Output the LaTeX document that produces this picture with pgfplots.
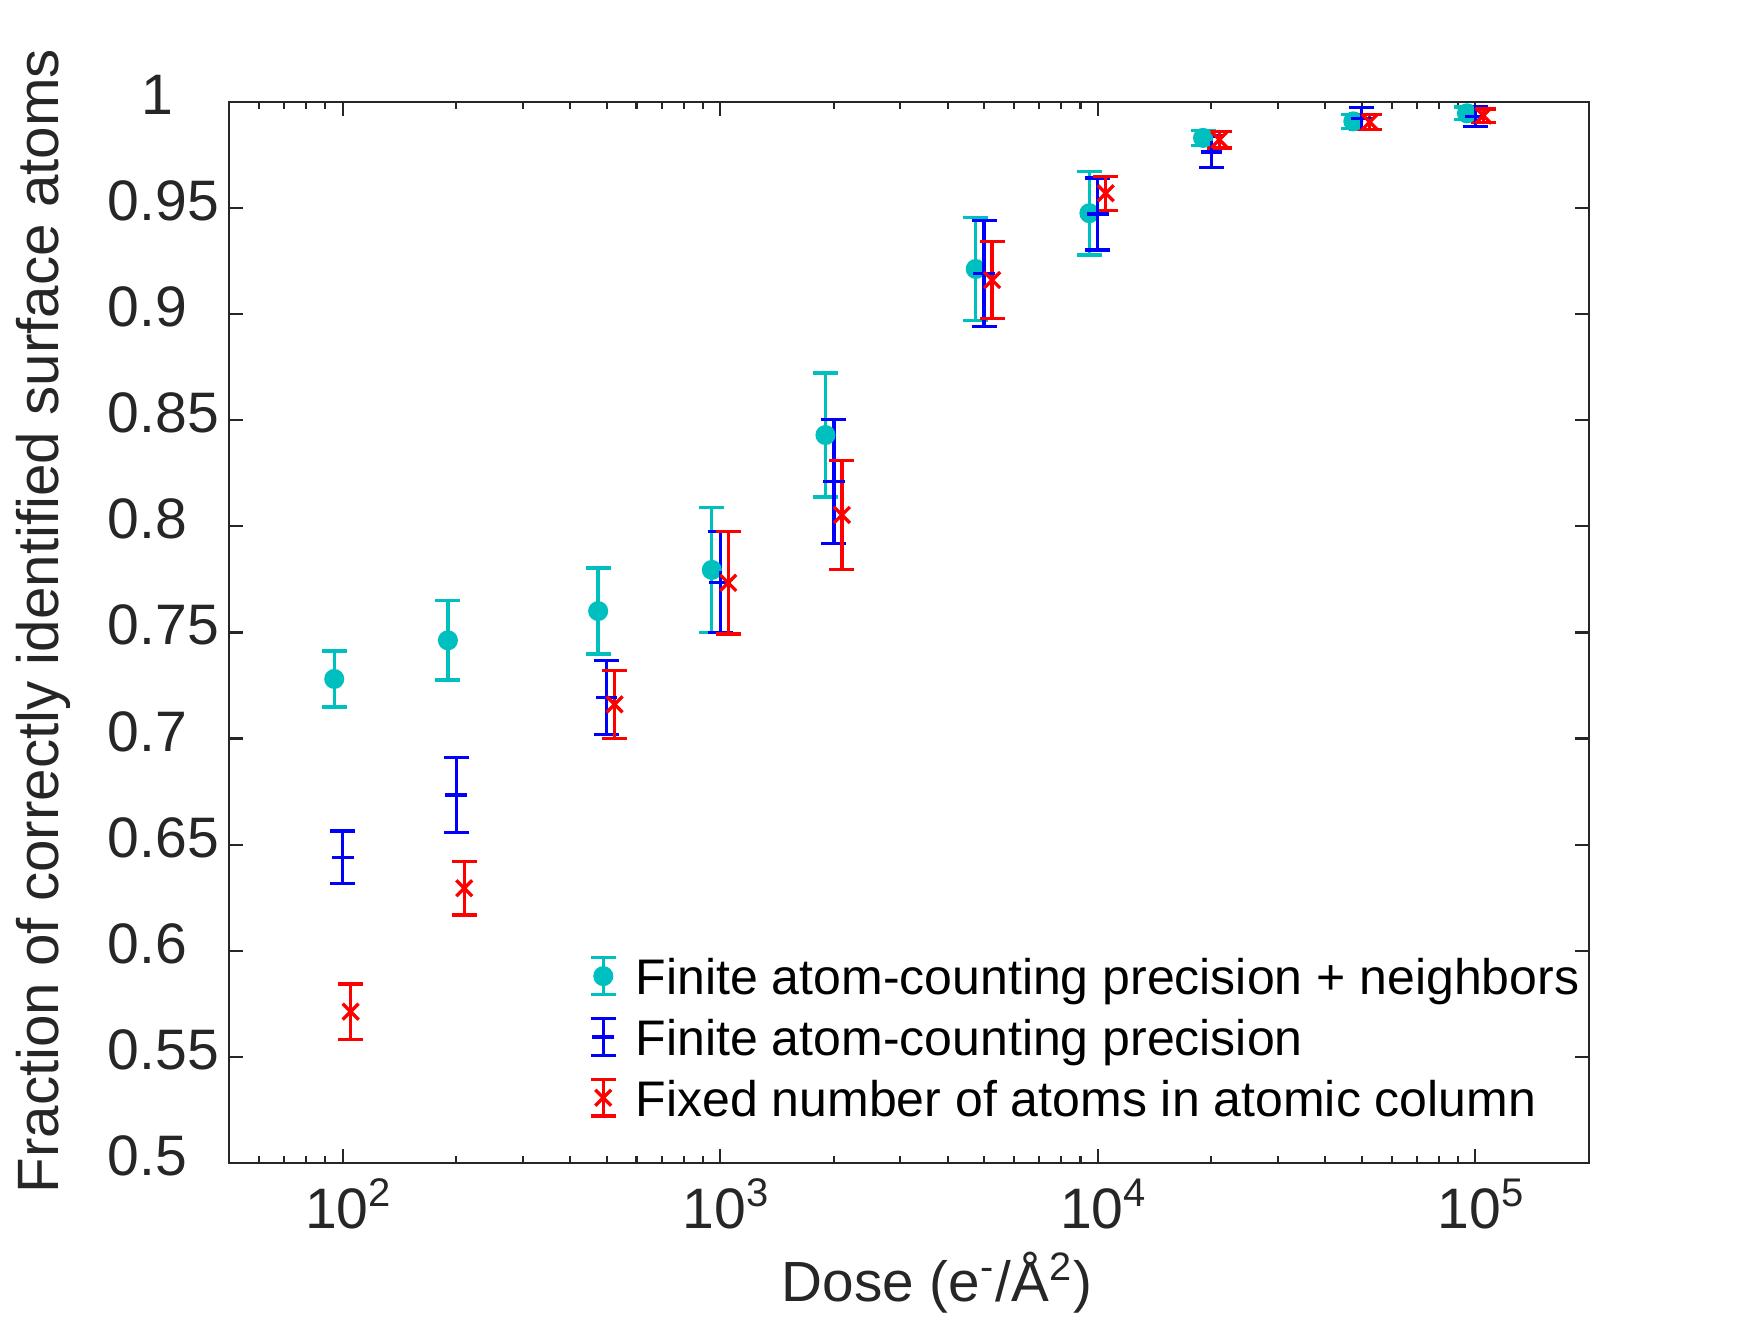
\documentclass[border=0pt]{standalone}
\usepackage{fontspec}
\setmainfont{Liberation Sans}
\usepackage{pgfplots}
\pgfplotsset{compat=1.18}
\definecolor{mcyan}{rgb}{0,0.75,0.75}
\definecolor{axgray}{rgb}{0.15,0.15,0.15}
\begin{document}
\begin{tikzpicture}
\path[use as bounding box] (-54.96pt,-38.23pt) rectangle (365.28pt,279.05pt);
\begin{axis}[
  at={(0pt,0pt)}, anchor=south west,
  scale only axis, width=326.4pt, height=254.5pt,
  xmode=log, xmin=50, xmax=2e5, ymin=0.5, ymax=1,
  axis line style={axgray, line width=0.5pt},
  tick style={axgray, line width=0.5pt},
  major tick length=3.3pt, minor tick length=1.7pt,
  tick align=inside,
  xtick={100,1000,10000,100000},
  xticklabels={10\textsuperscript{2},10\textsuperscript{3},10\textsuperscript{4},10\textsuperscript{5}},
  minor xtick={60,70,80,90,200,300,400,500,600,700,800,900,2000,3000,4000,5000,6000,7000,8000,9000,20000,30000,40000,50000,60000,70000,80000,90000,200000},
  ytick={0.5,0.55,0.6,0.65,0.7,0.75,0.8,0.85,0.9,0.95,1},
  yticklabels={0.5,0.55,0.6,0.65,0.7,0.75,0.8,0.85,0.9,0.95,\hspace*{8pt}1},
  ticklabel style={font=\fontsize{13.7}{16}\selectfont, text=axgray},
  xticklabel style={anchor=base, yshift=-15.7pt, xshift=1.5pt},
  yticklabel style={anchor=base west, inner sep=0pt, xshift=-29.3pt, yshift=-3pt},
  xlabel={Dose (e\textsuperscript{-}/Å\textsuperscript{2})},
  ylabel={Fraction of correctly identified surface atoms},
  label style={text=axgray},
  xlabel style={font=\fontsize{13.6}{17}\selectfont, at={(axis description cs:0.5,0)}, anchor=base, yshift=-33.4pt, xshift=6.7pt},
  ylabel style={font=\fontsize{14}{17}\selectfont, at={(axis description cs:-0.1253,0.5107)}, anchor=base},
  legend cell align=left,
  legend style={draw=none, fill=none, at={(0.2648,0.040)}, anchor=south west,
    inner sep=0pt, outer sep=0pt, row sep=3.8pt,
    font=\fontsize{12}{14}\selectfont,
    nodes={inner sep=0pt, inner xsep=4.4pt, text height=9.8pt, text depth=1pt}},
  legend image code/.code={
    \draw[#1, mark=none, solid] (0pt,-4.4pt) -- (0pt,4.4pt)
      (-3pt,-4.4pt) -- (3pt,-4.4pt) (-3pt,4.4pt) -- (3pt,4.4pt);
    \draw[#1, only marks] plot coordinates {(0pt,0pt)};
  },
]
\addplot[mcyan, only marks, line width=0.8pt, mark=*, mark size=2pt,
  mark options={solid, fill=mcyan},
  error bars/.cd, y dir=both, y explicit,
  error bar style={line width=0.8pt, mcyan},
  error mark options={rotate=90, mark size=3pt, line width=0.8pt, mcyan}]
coordinates {
(95,0.7281) +- (0,0.0132)
(190,0.7463) +- (0,0.0187)
(475,0.7601) +- (0,0.0203)
(950,0.7795) +- (0,0.0295)
(1900,0.8431) +- (0,0.0292)
(4750,0.9214) +- (0,0.0243)
(9500,0.9477) +- (0,0.0197)
(19000,0.9832) +- (0,0.0035)
(47500,0.9910) +- (0,0.0033)
(95000,0.9948) +- (0,0.0029)
};
\addlegendentry{Finite atom-counting precision + neighbors}
\addplot[blue, only marks, line width=0.8pt, mark=+, mark size=2.6pt,
  mark options={solid},
  error bars/.cd, y dir=both, y explicit,
  error bar style={line width=0.8pt, blue},
  error mark options={rotate=90, mark size=3pt, line width=0.8pt, blue}]
coordinates {
(100,0.6440) +- (0,0.0124)
(200,0.6733) +- (0,0.0177)
(500,0.7194) +- (0,0.0175)
(1000,0.7737) +- (0,0.0238)
(2000,0.8211) +- (0,0.0292)
(5000,0.9194) +- (0,0.0250)
(10000,0.9473) +- (0,0.0170)
(20000,0.9766) +- (0,0.0075)
(50000,0.9923) +- (0,0.0051)
(100000,0.9934) +- (0,0.0047)
};
\addlegendentry{Finite atom-counting precision}
\addplot[red, only marks, line width=0.8pt, mark=x, mark size=2.7pt,
  mark options={solid},
  error bars/.cd, y dir=both, y explicit,
  error bar style={line width=0.8pt, red},
  error mark options={rotate=90, mark size=3pt, line width=0.8pt, red}]
coordinates {
(105,0.5712) +- (0,0.0131)
(210,0.6294) +- (0,0.0126)
(525,0.7161) +- (0,0.0160)
(1050,0.7734) +- (0,0.0241)
(2100,0.8054) +- (0,0.0257)
(5250,0.9162) +- (0,0.0182)
(10500,0.9571) +- (0,0.0080)
(21000,0.9824) +- (0,0.0039)
(52500,0.9907) +- (0,0.0036)
(105000,0.9937) +- (0,0.0032)
};
\addlegendentry{Fixed number of atoms in atomic column}
\end{axis}
\end{tikzpicture}
\end{document}
